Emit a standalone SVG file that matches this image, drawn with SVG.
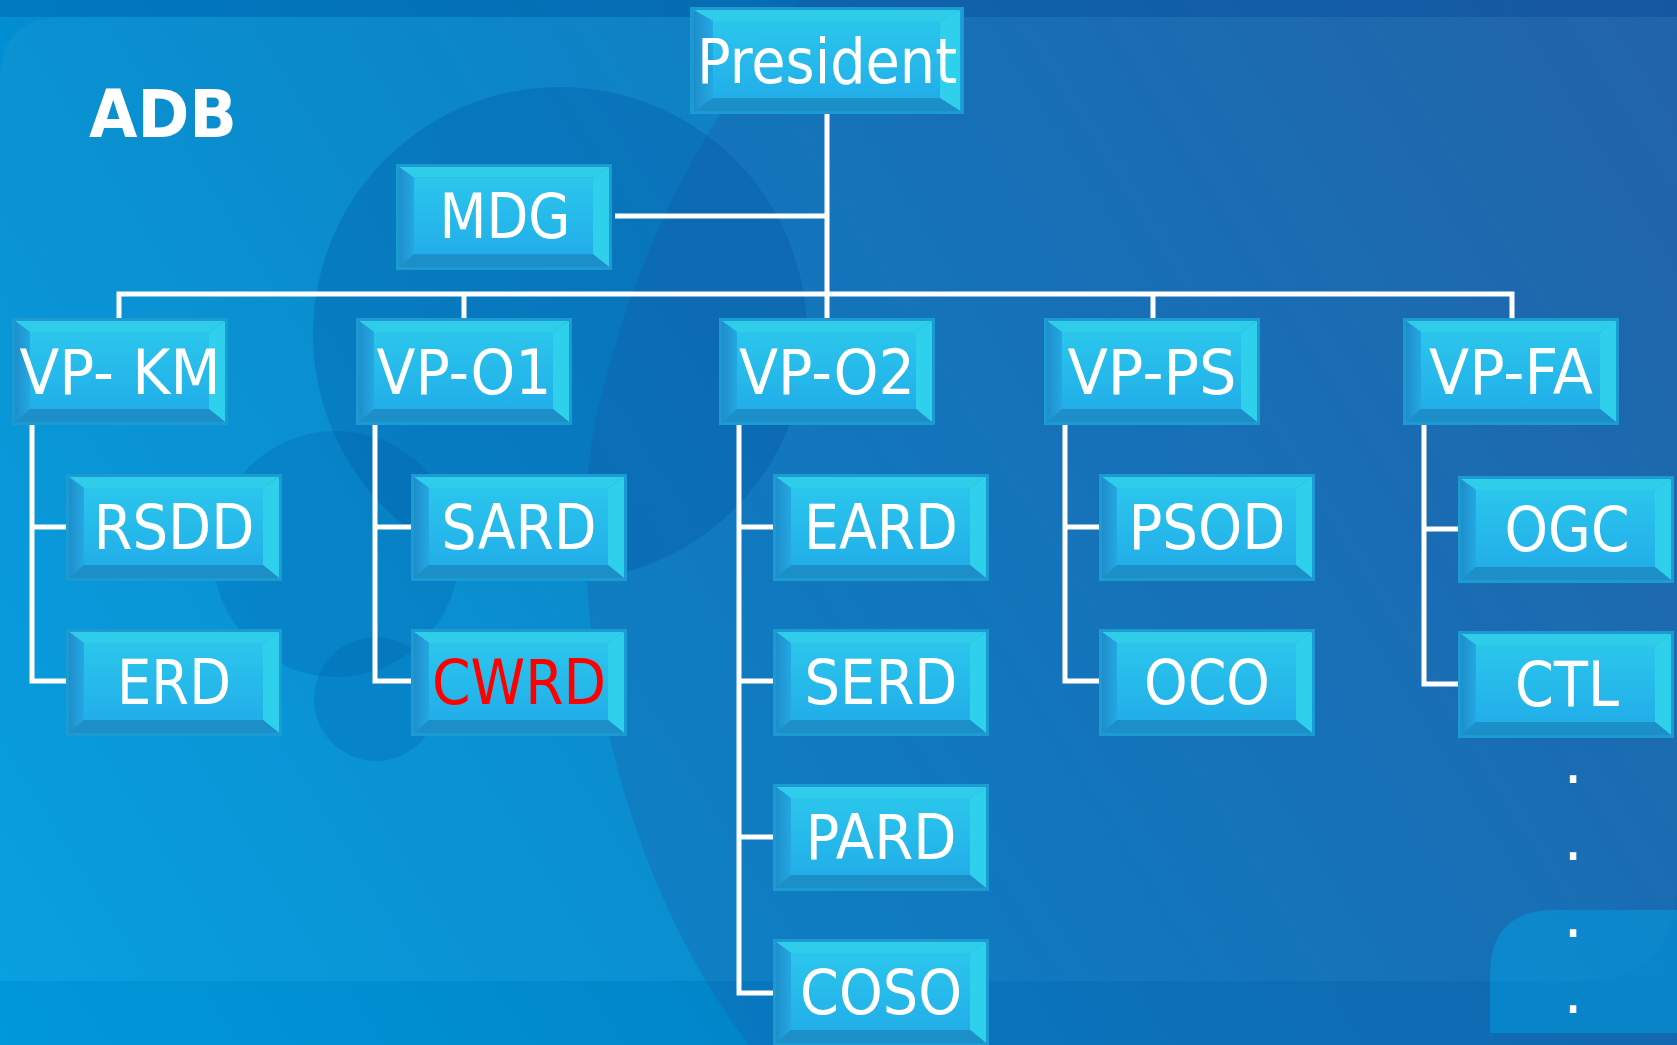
<svg xmlns="http://www.w3.org/2000/svg" xmlns:xlink="http://www.w3.org/1999/xlink" width="1677" height="1045" viewBox="0 0 1677 1045">
<style>
.lbl{font-family:"DejaVu Sans","Verdana",sans-serif;font-size:62px;fill:#ffffff;text-anchor:middle}
.red{fill:#ff0000}
.title{font-family:"DejaVu Sans","Verdana",sans-serif;font-size:66px;font-weight:bold;fill:#ffffff}
.conn path{fill:none;stroke:#ffffff;stroke-width:5;stroke-linejoin:miter}
</style>
<defs>
<linearGradient id="bg" x1="0" y1="1045" x2="1677" y2="0" gradientUnits="userSpaceOnUse">
<stop offset="0" stop-color="#009ee0"/>
<stop offset="0.45" stop-color="#0383c8"/>
<stop offset="1" stop-color="#1a66ab"/>
</linearGradient>
<linearGradient id="face" x1="0" y1="0" x2="0" y2="1">
<stop offset="0" stop-color="#2bc6ec"/>
<stop offset="1" stop-color="#22aee9"/>
</linearGradient>
<linearGradient id="lbev" x1="0" y1="0" x2="1" y2="0">
<stop offset="0" stop-color="#1e8ecb"/>
<stop offset="1" stop-color="#24a8e2"/>
</linearGradient>
<symbol id="box" viewBox="0 0 216 107" preserveAspectRatio="none">
<rect x="0" y="0" width="216" height="107" fill="#1c9ad2"/>
<polygon points="3,3 213,3 197,14 18,14" fill="#2fcdea"/>
<polygon points="3,3 18,14 18,91 3,104" fill="url(#lbev)"/>
<polygon points="213,3 213,104 197,91 197,14" fill="#2fd0ec"/>
<polygon points="3,104 18,91 197,91 213,104" fill="#1d8fc8"/>
<rect x="18" y="14" width="179" height="77" fill="url(#face)"/>
</symbol>
</defs>

<g id="background">
<rect x="0" y="0" width="1677" height="1045" fill="url(#bg)"/>
<rect x="0" y="0" width="1677" height="17" fill="#003f8a" opacity="0.25"/>
<path d="M0,80 Q0,17 63,17 H1677 V880 Q1677,981 1577,981 H0 Z" fill="#ffffff" opacity="0.035"/>
<rect x="0" y="981" width="1677" height="64" fill="#003f8a" opacity="0.06"/>
<path d="M749,1045 C600,850 560,560 600,400 C640,240 700,130 800,0 H1677 V1045 Z" fill="#23479a" opacity="0.22"/>
<circle cx="560" cy="334" r="247" fill="#00509e" opacity="0.28"/>
<circle cx="336" cy="554" r="123" fill="#00509e" opacity="0.22"/>
<circle cx="376" cy="699" r="62" fill="#00509e" opacity="0.22"/>
<path d="M1490,975 Q1490,910 1555,910 H1677 V1033 H1490 Z" fill="#00a6e6" opacity="0.45"/>
</g>

<text class="title" x="89" y="137" textLength="148" lengthAdjust="spacingAndGlyphs">ADB</text>

<g id="connectors" class="conn">
<path d="M827,114 V318"/>
<path d="M615,216 H827"/>
<path d="M119,318 V294 H1512 V318"/>
<path d="M464,294 V318"/>
<path d="M1153,294 V318"/>
<path d="M32,425 V681 H66"/>
<path d="M32,527 H66"/>
<path d="M375,425 V681 H411"/>
<path d="M375,527 H411"/>
<path d="M739,425 V993 H773"/>
<path d="M739,527 H773"/>
<path d="M739,681 H773"/>
<path d="M739,837 H773"/>
<path d="M1065,425 V681 H1099"/>
<path d="M1065,527 H1099"/>
<path d="M1424,425 V684 H1458"/>
<path d="M1424,529 H1458"/>
</g>

<g id="node-president"><use href="#box" x="690" y="7" width="274" height="107"/><text class="lbl" x="827" y="83" textLength="260" lengthAdjust="spacingAndGlyphs">President</text></g>
<g id="node-mdg"><use href="#box" x="396" y="164" width="216" height="106"/><text class="lbl" x="505" y="238" textLength="131" lengthAdjust="spacingAndGlyphs">MDG</text></g>

<g id="node-vp-km"><use href="#box" x="12" y="318" width="216" height="107"/><text class="lbl" x="120" y="394" textLength="201" lengthAdjust="spacingAndGlyphs">VP- KM</text></g>
<g id="node-vp-o1"><use href="#box" x="356" y="318" width="216" height="107"/><text class="lbl" x="464" y="394" textLength="175" lengthAdjust="spacingAndGlyphs">VP-O1</text></g>
<g id="node-vp-o2"><use href="#box" x="719" y="318" width="216" height="107"/><text class="lbl" x="827" y="394" textLength="176" lengthAdjust="spacingAndGlyphs">VP-O2</text></g>
<g id="node-vp-ps"><use href="#box" x="1044" y="318" width="216" height="107"/><text class="lbl" x="1152" y="394" textLength="169" lengthAdjust="spacingAndGlyphs">VP-PS</text></g>
<g id="node-vp-fa"><use href="#box" x="1403" y="318" width="216" height="107"/><text class="lbl" x="1511" y="394" textLength="164" lengthAdjust="spacingAndGlyphs">VP-FA</text></g>

<g id="node-rsdd"><use href="#box" x="66" y="474" width="216" height="107"/><text class="lbl" x="174" y="549" textLength="161" lengthAdjust="spacingAndGlyphs">RSDD</text></g>
<g id="node-erd"><use href="#box" x="66" y="629" width="216" height="107"/><text class="lbl" x="174" y="704" textLength="114" lengthAdjust="spacingAndGlyphs">ERD</text></g>
<g id="node-sard"><use href="#box" x="411" y="474" width="216" height="107"/><text class="lbl" x="519" y="549" textLength="155" lengthAdjust="spacingAndGlyphs">SARD</text></g>
<g id="node-cwrd"><use href="#box" x="411" y="629" width="216" height="107"/><text class="lbl red" x="519" y="704" textLength="174" lengthAdjust="spacingAndGlyphs">CWRD</text></g>
<g id="node-eard"><use href="#box" x="773" y="474" width="216" height="107"/><text class="lbl" x="881" y="549" textLength="154" lengthAdjust="spacingAndGlyphs">EARD</text></g>
<g id="node-serd"><use href="#box" x="773" y="629" width="216" height="107"/><text class="lbl" x="881" y="704" textLength="153" lengthAdjust="spacingAndGlyphs">SERD</text></g>
<g id="node-pard"><use href="#box" x="773" y="784" width="216" height="107"/><text class="lbl" x="881" y="859" textLength="151" lengthAdjust="spacingAndGlyphs">PARD</text></g>
<g id="node-coso"><use href="#box" x="773" y="939" width="216" height="107"/><text class="lbl" x="881" y="1014" textLength="162" lengthAdjust="spacingAndGlyphs">COSO</text></g>
<g id="node-psod"><use href="#box" x="1099" y="474" width="216" height="107"/><text class="lbl" x="1207" y="549" textLength="157" lengthAdjust="spacingAndGlyphs">PSOD</text></g>
<g id="node-oco"><use href="#box" x="1099" y="629" width="216" height="107"/><text class="lbl" x="1207" y="704" textLength="126" lengthAdjust="spacingAndGlyphs">OCO</text></g>
<g id="node-ogc"><use href="#box" x="1458" y="476" width="216" height="107"/><text class="lbl" x="1567" y="551" textLength="125" lengthAdjust="spacingAndGlyphs">OGC</text></g>
<g id="node-ctl"><use href="#box" x="1458" y="631" width="216" height="107"/><text class="lbl" x="1567" y="706" textLength="104" lengthAdjust="spacingAndGlyphs">CTL</text></g>

<g id="ellipsis">
<text class="lbl" x="1573" y="783">.</text>
<text class="lbl" x="1573" y="860">.</text>
<text class="lbl" x="1573" y="937">.</text>
<text class="lbl" x="1573" y="1013">.</text>
</g>
</svg>
